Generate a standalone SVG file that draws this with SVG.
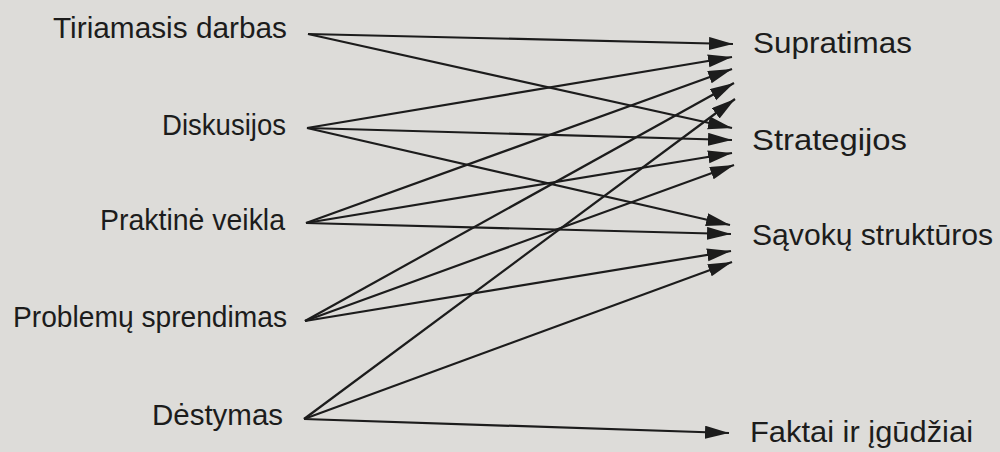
<svg xmlns="http://www.w3.org/2000/svg" width="1000" height="452" viewBox="0 0 1000 452">
  <style>
    .lbl { font-family: "Liberation Sans", "DejaVu Sans", sans-serif; font-size: 30px; fill: #1c1c1c; }
    .src { text-anchor: end; }
    .edge { stroke: #1c1c1c; stroke-width: 2.2; fill: none; marker-end: url(#ah); }
  </style>
  <defs>
    <marker id="ah" markerUnits="userSpaceOnUse" markerWidth="26" markerHeight="14" refX="24" refY="6.5" orient="auto">
      <path d="M0,0 L24,6.5 L0,13 Z" fill="#1c1c1c"/>
    </marker>
  </defs>
  <rect width="1000" height="452" fill="#dddcd9"/>

  <g id="connectors">
    <!-- Tiriamasis darbas -->
    <line class="edge" x1="308" y1="34" x2="733" y2="44"/>
    <line class="edge" x1="308" y1="34" x2="732" y2="128"/>
    <!-- Diskusijos -->
    <line class="edge" x1="307" y1="128" x2="732" y2="57"/>
    <line class="edge" x1="307" y1="128" x2="732" y2="140"/>
    <line class="edge" x1="307" y1="128" x2="730" y2="225"/>
    <!-- Praktine veikla -->
    <line class="edge" x1="306" y1="223" x2="732" y2="69"/>
    <line class="edge" x1="306" y1="223" x2="732" y2="153"/>
    <line class="edge" x1="306" y1="223" x2="731" y2="234"/>
    <!-- Problemu sprendimas -->
    <line class="edge" x1="305" y1="321" x2="734" y2="83"/>
    <line class="edge" x1="305" y1="321" x2="734" y2="165"/>
    <line class="edge" x1="305" y1="321" x2="731" y2="251"/>
    <!-- Destymas -->
    <line class="edge" x1="304" y1="419" x2="735" y2="99"/>
    <line class="edge" x1="304" y1="419" x2="732" y2="262"/>
    <line class="edge" x1="304" y1="419" x2="729" y2="433"/>
  </g>

  <g id="n-tiriamasis"><text class="lbl src" x="287" y="38" textLength="234" lengthAdjust="spacingAndGlyphs">Tiriamasis darbas</text></g>
  <g id="n-diskusijos"><text class="lbl src" x="286" y="135" textLength="124" lengthAdjust="spacingAndGlyphs">Diskusijos</text></g>
  <g id="n-praktine"><text class="lbl src" x="285" y="230" textLength="185" lengthAdjust="spacingAndGlyphs">Praktinė veikla</text></g>
  <g id="n-problemu"><text class="lbl src" x="287" y="327" textLength="274" lengthAdjust="spacingAndGlyphs">Problemų sprendimas</text></g>
  <g id="n-destymas"><text class="lbl src" x="283" y="425" textLength="131" lengthAdjust="spacingAndGlyphs">Dėstymas</text></g>

  <g id="n-supratimas"><text class="lbl" x="753" y="53" textLength="159" lengthAdjust="spacingAndGlyphs">Supratimas</text></g>
  <g id="n-strategijos"><text class="lbl" x="752" y="150" textLength="155" lengthAdjust="spacingAndGlyphs">Strategijos</text></g>
  <g id="n-savoku"><text class="lbl" x="752" y="245" textLength="241" lengthAdjust="spacingAndGlyphs">Sąvokų struktūros</text></g>
  <g id="n-faktai"><text class="lbl" x="750" y="442" textLength="223" lengthAdjust="spacingAndGlyphs">Faktai ir įgūdžiai</text></g>
</svg>
